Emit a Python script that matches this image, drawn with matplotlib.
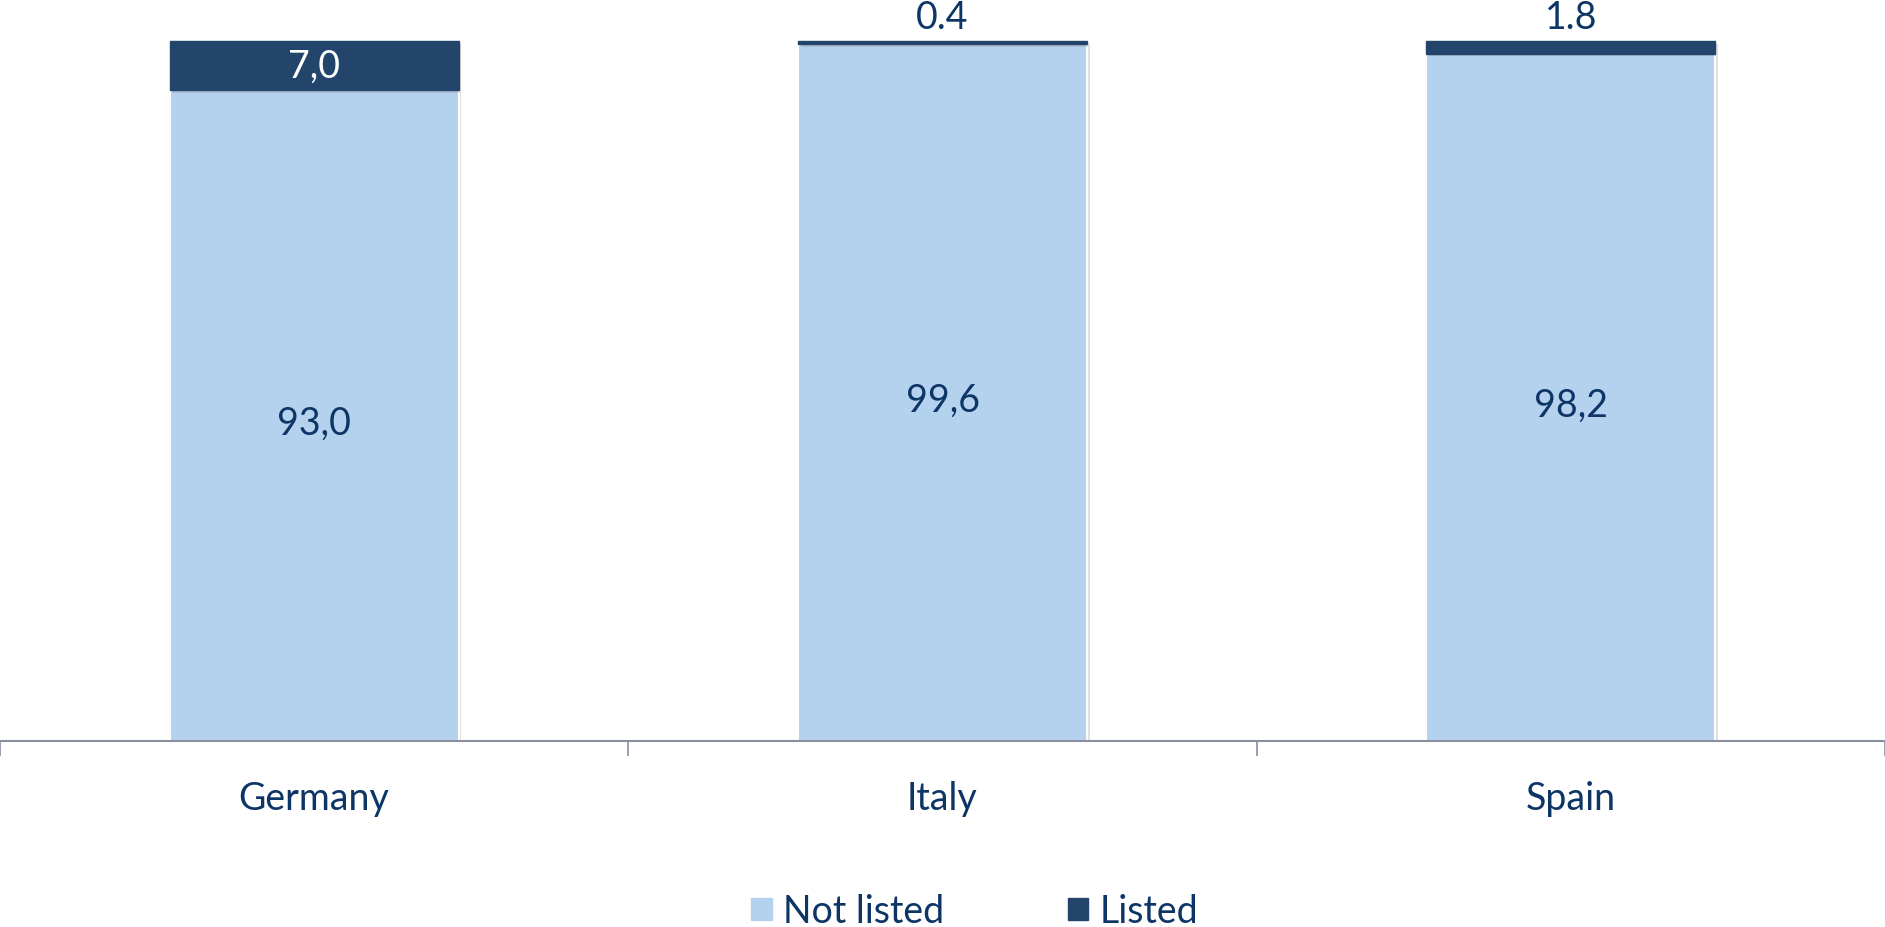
import matplotlib.pyplot as plt
import matplotlib.patheffects as pe
from matplotlib.patches import Patch

countries = ["Germany", "Italy", "Spain"]
not_listed = [93.0, 99.6, 98.2]
listed = [7.0, 0.4, 1.8]
not_listed_labels = ["93,0", "99,6", "98,2"]
listed_labels = ["7,0", "0.4", "1.8"]

light = "#B4D1EE"
navy = "#23446B"
text_col = "#0D3566"

plt.rcParams["font.family"] = ["Lato", "DejaVu Sans"]

fig = plt.figure(figsize=(18.85, 9.28), dpi=100)
ax = fig.add_axes([0, 0.2, 1, 0.8])

x = range(len(countries))
shadow = [pe.SimplePatchShadow(offset=(2, -2), shadow_rgbFace="#888888", alpha=0.25), pe.Normal()]

b1 = ax.bar(x, not_listed, width=0.46, color=light, edgecolor="white", linewidth=1.5)
b2 = ax.bar(x, listed, bottom=not_listed, width=0.46, color=navy, edgecolor=navy, linewidth=1.0)
for b in list(b1) + list(b2):
    b.set_path_effects(shadow)

for i in x:
    ax.text(i, not_listed[i] / 2 - 1, not_listed_labels[i], ha="center", va="center",
            fontsize=27, color=text_col)
    if listed[i] >= 5:
        ax.text(i, not_listed[i] + listed[i] / 2, listed_labels[i], ha="center", va="center",
                fontsize=27, color="white")
    else:
        ax.text(i, not_listed[i] + listed[i] + 0.8, listed_labels[i], ha="center", va="bottom",
                fontsize=27, color=text_col)

ax.set_xlim(-0.5, 2.5)
ax.set_ylim(0, 106)
for s in ["top", "right", "left"]:
    ax.spines[s].set_visible(False)
ax.spines["bottom"].set_color("#8A8FA0")
ax.spines["bottom"].set_linewidth(1.5)
ax.set_yticks([])
ax.set_xticks(list(x))
ax.set_xticklabels(countries, fontsize=27, color=text_col)
ax.tick_params(axis="x", which="major", length=0, pad=28)
ax.set_xticks([-0.5, 0.5, 1.5, 2.5], minor=True)
ax.tick_params(axis="x", which="minor", length=11, width=1.2, color="#8A8FA0")

handles = [Patch(color=light, label="Not listed"), Patch(color=navy, label="Listed")]
fig.legend(handles=handles, loc="center", bbox_to_anchor=(0.517, 0.017), ncol=2,
           frameon=False, fontsize=27, handlelength=0.55, handleheight=0.55,
           handletextpad=0.3, columnspacing=3.3, labelcolor=text_col,
           borderpad=0, borderaxespad=0)

fig.savefig("out.png", dpi=100)
